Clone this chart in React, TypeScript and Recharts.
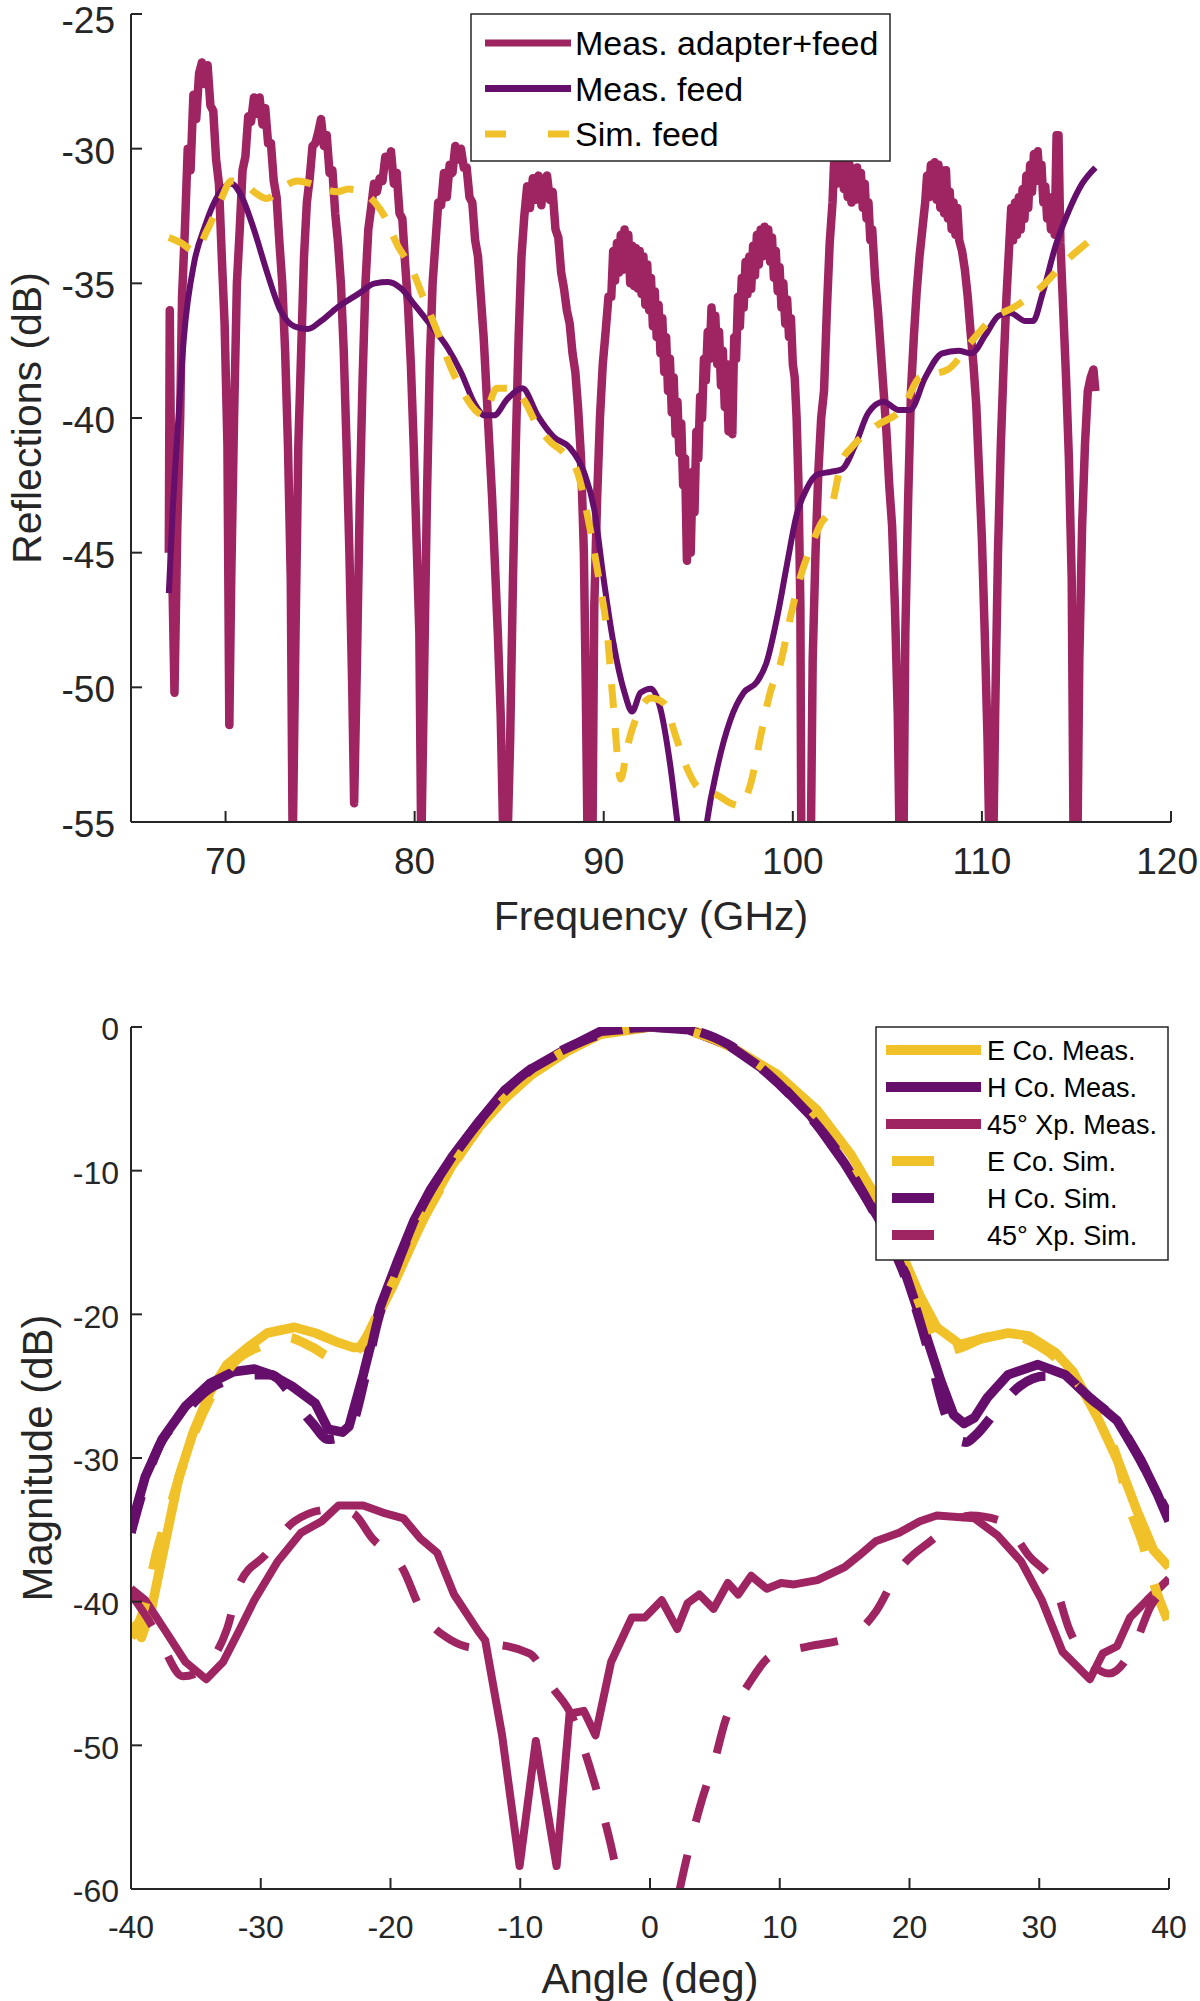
import React from 'react';
import { LineChart, Line, XAxis, YAxis } from 'recharts';

const FONT = '"Liberation Sans", Arial, Helvetica, sans-serif';
const MAROON = '#9E2462';
const PURPLE = '#660E6B';
const YELLOW = '#F1C12A';
const AXIS = '#262626';

// ---- top chart: reflections vs frequency ----
const freqTicks = [70, 80, 90, 100, 110, 120];
const reflTicks = [-55, -50, -45, -40, -35, -30, -25];

// [GHz, dB]
const adapterFeed: [number, number][] = [
  [67.0, -45.0], [67.05, -36.0], [67.15, -44.5], [67.3, -50.2], [67.45, -44.0], [67.6, -40.0], [67.7, -35.5], [67.85, -33.0],
  [68.0, -30.0], [68.15, -30.8], [68.3, -28.0], [68.45, -28.9], [68.6, -27.2], [68.75, -26.8], [68.9, -27.6], [69.05, -26.9],
  [69.2, -28.4], [69.35, -28.6], [69.5, -30.4], [69.65, -31.3], [69.8, -34.0], [69.95, -36.5], [70.1, -41.0], [70.2, -51.4],
  [70.3, -46.0], [70.45, -40.0], [70.6, -35.0], [70.75, -33.0], [70.9, -30.8], [71.05, -30.3], [71.2, -28.8], [71.35, -29.0],
  [71.5, -28.1], [71.65, -28.7], [71.8, -28.1], [71.95, -29.1], [72.1, -28.5], [72.25, -29.8], [72.4, -29.8], [72.55, -31.2],
  [72.7, -31.8], [72.85, -33.5], [73.0, -35.0], [73.15, -37.5], [73.3, -41.0], [73.45, -46.0], [73.55, -56.0], [73.7, -48.0],
  [73.85, -41.0], [74.0, -37.5], [74.15, -34.0], [74.3, -32.0], [74.45, -31.1], [74.6, -29.9], [74.75, -29.8], [74.9, -29.4],
  [75.05, -28.9], [75.2, -29.9], [75.35, -29.5], [75.5, -30.9], [75.65, -30.8], [75.8, -32.4], [75.95, -33.5], [76.1, -35.0],
  [76.25, -37.5], [76.4, -41.0], [76.55, -45.0], [76.7, -50.0], [76.8, -54.3], [76.95, -49.0], [77.1, -43.0], [77.25, -38.5],
  [77.4, -35.0], [77.55, -33.0], [77.7, -32.2], [77.85, -31.3], [78.0, -31.6], [78.15, -31.1], [78.3, -31.2], [78.45, -30.3],
  [78.6, -30.6], [78.75, -30.1], [78.9, -31.3], [79.05, -30.9], [79.2, -32.4], [79.35, -32.6], [79.5, -34.3], [79.65, -35.8],
  [79.8, -38.0], [79.95, -41.0], [80.1, -44.5], [80.25, -48.0], [80.35, -56.0], [80.5, -49.5], [80.65, -43.0], [80.8, -38.0],
  [80.95, -35.0], [81.1, -33.5], [81.25, -32.0], [81.4, -32.1], [81.55, -30.9], [81.7, -31.8], [81.85, -30.6], [82.0, -30.9],
  [82.15, -29.9], [82.3, -30.4], [82.45, -30.0], [82.6, -30.7], [82.75, -30.7], [82.9, -31.8], [83.05, -32.0], [83.2, -33.4],
  [83.35, -34.0], [83.5, -35.5], [83.65, -37.0], [83.8, -39.0], [83.95, -41.0], [84.1, -43.0], [84.25, -45.5], [84.4, -48.0],
  [84.55, -51.0], [84.7, -56.0], [84.9, -56.0], [85.05, -52.0], [85.2, -46.0], [85.35, -41.0], [85.5, -37.0], [85.65, -34.0],
  [85.8, -32.5], [85.95, -31.4], [86.1, -32.2], [86.25, -31.1], [86.4, -31.9], [86.55, -31.0], [86.7, -32.1], [86.85, -31.2],
  [87.0, -31.0], [87.15, -31.9], [87.3, -31.6], [87.45, -33.0], [87.6, -33.3], [87.75, -34.6], [87.9, -35.2], [88.05, -36.0],
  [88.2, -36.5], [88.35, -37.6], [88.5, -38.3], [88.65, -39.7], [88.8, -41.5], [88.95, -45.0], [89.05, -50.0], [89.15, -56.0],
  [89.4, -56.0], [89.5, -47.0], [89.65, -43.0], [89.8, -40.0], [89.95, -38.0], [90.1, -36.8], [90.25, -35.5], [90.4, -35.5],
  [90.5, -33.8], [90.6, -34.9], [90.7, -33.5], [90.8, -34.6], [90.9, -33.2], [91.0, -34.5], [91.1, -33.0], [91.2, -34.3],
  [91.3, -33.2], [91.4, -35.0], [91.5, -33.6], [91.6, -35.1], [91.7, -33.7], [91.8, -35.2], [91.9, -33.8], [92.0, -35.4],
  [92.1, -34.0], [92.2, -35.8], [92.3, -34.3], [92.4, -36.0], [92.5, -34.8], [92.6, -36.6], [92.7, -35.3], [92.8, -37.0],
  [92.9, -35.8], [93.0, -37.6], [93.1, -36.3], [93.2, -38.3], [93.3, -37.0], [93.4, -39.0], [93.5, -37.8], [93.6, -39.8],
  [93.7, -38.5], [93.8, -40.6], [93.9, -39.4], [94.0, -41.3], [94.1, -40.2], [94.2, -42.5], [94.3, -41.5], [94.4, -45.3],
  [94.5, -43.0], [94.6, -45.0], [94.7, -42.0], [94.8, -43.5], [94.9, -40.5], [95.0, -41.5], [95.1, -39.2], [95.2, -40.0],
  [95.3, -37.8], [95.4, -38.6], [95.5, -36.8], [95.6, -37.8], [95.7, -35.9], [95.8, -37.2], [95.9, -36.2], [96.0, -38.0],
  [96.1, -36.8], [96.2, -38.8], [96.3, -37.5], [96.4, -39.6], [96.5, -38.0], [96.6, -40.5], [96.7, -38.4], [96.8, -40.6],
  [96.9, -37.0], [97.0, -37.8], [97.1, -35.5], [97.2, -36.6], [97.3, -34.8], [97.4, -35.9], [97.5, -34.2], [97.6, -35.4],
  [97.7, -34.0], [97.8, -35.2], [97.9, -33.6], [98.0, -34.7], [98.1, -33.2], [98.2, -34.3], [98.3, -33.0], [98.4, -34.0],
  [98.5, -32.9], [98.6, -33.8], [98.7, -33.0], [98.8, -34.2], [98.9, -33.3], [99.0, -34.8], [99.1, -33.8], [99.2, -35.3],
  [99.3, -34.4], [99.4, -35.9], [99.5, -35.0], [99.6, -36.5], [99.7, -35.6], [99.8, -37.0], [99.9, -36.3], [100.0, -38.0],
  [100.1, -38.5], [100.2, -40.0], [100.3, -42.5], [100.4, -47.0], [100.45, -56.0], [100.95, -56.0], [101.05, -49.0], [101.2, -45.0],
  [101.35, -42.0], [101.5, -40.0], [101.65, -39.0], [101.8, -36.0], [101.95, -33.5], [102.1, -32.0], [102.2, -30.2], [102.3, -31.3],
  [102.4, -29.9], [102.5, -31.0], [102.6, -30.0], [102.7, -31.5], [102.8, -30.3], [102.9, -31.8], [103.0, -30.6], [103.1, -32.0],
  [103.2, -30.8], [103.3, -31.9], [103.4, -30.7], [103.5, -31.8], [103.6, -30.9], [103.7, -32.2], [103.8, -31.3], [103.9, -32.6],
  [104.0, -32.0], [104.1, -33.4], [104.2, -33.0], [104.35, -34.8], [104.5, -36.0], [104.65, -37.5], [104.8, -39.0], [104.95, -40.5],
  [105.1, -42.5], [105.25, -44.0], [105.4, -47.0], [105.55, -51.0], [105.65, -56.0], [105.85, -56.0], [105.95, -48.0], [106.1, -43.0],
  [106.25, -39.0], [106.4, -37.0], [106.55, -35.3], [106.7, -34.0], [106.85, -33.0], [107.0, -32.0], [107.1, -31.0], [107.2, -31.8],
  [107.3, -30.6], [107.4, -31.6], [107.5, -30.5], [107.6, -31.9], [107.7, -30.6], [107.8, -32.2], [107.9, -30.8], [108.0, -32.4],
  [108.1, -30.8], [108.2, -32.6], [108.3, -31.6], [108.4, -33.0], [108.5, -32.0], [108.6, -33.2], [108.7, -32.2], [108.8, -33.4],
  [108.95, -33.8], [109.1, -34.5], [109.25, -35.5], [109.4, -36.8], [109.55, -38.0], [109.7, -39.5], [109.85, -42.0], [110.0, -44.5],
  [110.15, -48.0], [110.3, -52.0], [110.4, -56.0], [110.6, -56.0], [110.7, -51.0], [110.85, -45.0], [111.0, -41.0], [111.15, -38.0],
  [111.3, -35.5], [111.45, -33.5], [111.55, -32.2], [111.65, -33.4], [111.75, -32.0], [111.85, -33.2], [111.95, -31.8], [112.05, -33.0],
  [112.15, -31.5], [112.25, -32.6], [112.35, -31.0], [112.45, -32.2], [112.55, -30.6], [112.65, -31.6], [112.75, -30.2], [112.85, -31.2],
  [112.95, -30.1], [113.05, -31.2], [113.15, -30.6], [113.25, -32.0], [113.35, -31.4], [113.45, -32.6], [113.55, -31.8], [113.65, -33.0],
  [113.75, -32.2], [113.85, -33.2], [113.95, -29.5], [114.05, -29.5], [114.15, -33.5], [114.3, -36.0], [114.45, -38.5], [114.6, -41.5],
  [114.75, -46.0], [114.85, -56.0], [115.05, -56.0], [115.15, -49.0], [115.3, -44.0], [115.45, -41.0], [115.6, -39.0], [115.75, -38.5],
  [115.9, -38.2], [116.0, -39.0],
];

const measFeed: [number, number][] = [
  [67.0, -46.5], [67.2, -43.5], [67.5, -40.1], [67.8, -37.0], [68.35, -34.2], [68.9, -32.9], [69.4, -32.0], [69.85, -31.5],
  [70.3, -31.3], [70.8, -31.7], [71.5, -33.0], [72.2, -34.6], [72.9, -36.0], [73.65, -36.6], [74.35, -36.7], [75.05, -36.4],
  [75.9, -35.9], [77.0, -35.4], [77.9, -35.0], [78.6, -34.95], [79.3, -35.2], [80.0, -35.8], [80.9, -36.6], [81.75, -37.4],
  [82.45, -38.3], [83.2, -39.5], [83.7, -39.9], [84.2, -39.9], [84.9, -39.3], [85.7, -38.9], [86.5, -39.9], [87.35, -40.7],
  [88.2, -41.1], [88.95, -42.0], [89.5, -43.4], [90.0, -46.0], [90.5, -48.3], [91.1, -50.2], [91.5, -50.9], [91.95, -50.2],
  [92.5, -50.05], [93.0, -50.8], [93.5, -52.8], [93.95, -55.3], [94.5, -58.0], [95.0, -58.0], [95.4, -55.3], [96.0, -53.0],
  [96.7, -51.2], [97.4, -50.2], [98.1, -49.8], [98.6, -49.1], [99.2, -47.3], [99.7, -45.4], [100.2, -43.6], [100.75, -42.6],
  [101.3, -42.1], [102.0, -42.0], [102.6, -41.9], [103.3, -41.0], [104.0, -39.8], [104.8, -39.4], [105.6, -39.7], [106.2, -39.7],
  [107.0, -38.5], [107.9, -37.6], [108.75, -37.5], [109.45, -37.6], [110.2, -36.9], [110.9, -36.2], [111.5, -36.1], [112.3, -36.4],
  [112.7, -36.4], [113.2, -35.4], [113.9, -33.6], [114.6, -32.3], [115.3, -31.3], [116.0, -30.7],
];

const simFeed: [number, number][] = [
  [67.0, -33.3], [67.65, -33.5], [68.35, -33.8], [69.05, -33.0], [69.75, -31.9], [70.3, -31.2], [71.0, -31.3], [71.5, -31.6],
  [72.2, -31.85], [72.9, -31.5], [73.8, -31.2], [74.5, -31.3], [75.2, -31.5], [75.9, -31.6], [76.5, -31.5], [77.2, -31.6],
  [77.9, -32.0], [78.4, -32.5], [79.1, -33.6], [79.8, -34.4], [80.5, -35.6], [81.2, -36.8], [81.9, -38.1], [82.45, -38.9],
  [83.35, -39.8], [83.65, -39.9], [84.35, -38.9], [85.05, -38.9], [85.75, -39.3], [86.5, -40.3], [87.2, -40.9], [87.9, -41.3],
  [88.6, -42.0], [89.3, -44.2], [89.75, -46.0], [90.2, -48.1], [90.5, -50.6], [90.9, -53.4], [91.25, -52.2], [91.8, -51.0],
  [92.5, -50.4], [93.2, -50.6], [93.8, -51.8], [94.4, -53.0], [95.1, -53.8], [96.0, -54.0], [96.7, -54.3], [97.2, -54.4],
  [97.8, -53.5], [98.3, -51.8], [98.8, -50.2], [99.35, -49.1], [99.9, -47.3], [100.4, -45.9], [100.95, -44.8], [101.5, -43.9],
  [102.0, -43.4], [102.6, -41.6], [103.1, -41.1], [104.4, -40.3], [105.85, -39.6], [106.7, -38.5], [108.2, -38.2], [109.4, -37.2],
  [110.4, -36.4], [111.9, -35.8], [113.2, -35.1], [114.4, -34.2], [115.7, -33.4], [116.0, -33.2],
];

// ---- bottom chart: pattern vs angle ----
const angleTicks = [-40, -30, -20, -10, 0, 10, 20, 30, 40];
const magTicks = [-60, -50, -40, -30, -20, -10, 0];

const eCoMeas: [number, number][] = [
  [-40, -41.5], [-39.2, -42.5], [-38.4, -40.4], [-37.3, -35.6], [-36.3, -31.3], [-35.2, -28.2], [-33.9, -25.4], [-32.6, -23.5],
  [-31.0, -22.3], [-29.5, -21.3], [-27.4, -20.9], [-25.8, -21.3], [-24.2, -21.9], [-22.9, -22.3], [-22.1, -22.3], [-21.1, -20.3],
  [-19.8, -18.0], [-18.2, -14.8], [-16.9, -12.3], [-15.3, -9.7], [-13.2, -7.0], [-11.2, -5.0], [-9.1, -3.3], [-6.4, -1.7],
  [-3.8, -0.5], [0, 0], [3.0, -0.1], [6.1, -1.3], [9.8, -3.3], [12.9, -5.8], [15.5, -8.9], [17.6, -12.1],
  [19.7, -16.4], [20.8, -18.7], [22.1, -20.9], [23.9, -22.1], [25.5, -21.7], [27.6, -21.3], [29.2, -21.5], [31.3, -22.7],
  [32.6, -24.0], [34.4, -27.0], [36.2, -30.5], [37.5, -33.6], [38.8, -36.4], [40, -37.6],
];

const hCoMeas: [number, number][] = [
  [-40, -34.8], [-38.9, -31.3], [-37.6, -28.7], [-35.8, -26.4], [-33.9, -24.8], [-32.1, -24.0], [-30.5, -23.8], [-29.2, -24.2],
  [-27.6, -25.0], [-25.8, -26.2], [-24.8, -28.0], [-23.7, -28.2], [-23.2, -27.8], [-22.1, -24.2], [-20.8, -19.5], [-19.5, -16.4],
  [-18.2, -13.5], [-16.9, -11.3], [-15.3, -9.1], [-13.2, -6.6], [-11.2, -4.4], [-9.1, -2.9], [-6.4, -1.5], [-3.8, -0.3],
  [0, 0], [3.0, -0.2], [6.1, -1.3], [9.3, -3.3], [12.4, -6.2], [15.0, -9.5], [17.6, -13.3], [19.7, -17.2],
  [21.0, -20.7], [22.4, -24.6], [23.4, -27.0], [24.2, -27.6], [25.0, -27.2], [26.0, -25.8], [27.6, -24.2], [29.9, -23.5],
  [32.0, -24.2], [33.9, -25.8], [36.0, -27.4], [37.8, -30.1], [39.1, -32.5], [40, -34.4],
];

const xpMeas: [number, number][] = [
  [-40, -39.1], [-38.9, -39.9], [-37.3, -42.1], [-35.8, -44.2], [-34.2, -45.4], [-32.9, -44.2], [-31.6, -41.9], [-30.5, -39.9],
  [-28.7, -37.2], [-26.9, -35.2], [-25.3, -34.4], [-24.0, -33.3], [-22.1, -33.3], [-20.6, -33.8], [-19.0, -34.2], [-17.7, -35.6],
  [-16.4, -36.6], [-15.1, -39.5], [-13.2, -42.1], [-12.7, -42.7], [-11.4, -49.3], [-10.05, -58.4], [-8.8, -49.7], [-7.2, -58.4],
  [-6.2, -47.8], [-5.1, -47.6], [-4.2, -49.3], [-3.0, -44.2], [-1.4, -41.1], [-0.4, -41.1], [0.9, -39.9], [2.1, -41.9],
  [2.9, -40.1], [3.8, -39.5], [4.9, -40.5], [6.0, -38.7], [6.8, -39.5], [7.8, -38.2], [9.0, -39.1], [10.1, -38.7],
  [11.1, -38.8], [12.9, -38.5], [15.0, -37.6], [16.1, -36.8], [17.4, -35.8], [19.2, -35.2], [20.8, -34.4], [22.1, -34.0],
  [25.0, -34.2], [26.8, -35.4], [28.6, -37.2], [30.2, -39.9], [31.8, -43.5], [32.8, -44.4], [33.9, -45.4], [34.9, -43.6],
  [36.0, -43.1], [37.0, -41.1], [38.3, -39.9], [40, -38.4],
];

const eCoSim: [number, number][] = [
  [-40, -42.5], [-39, -40.5], [-38, -36.5], [-37, -33.5], [-36, -30.5], [-35, -28.0], [-34, -26.0], [-33, -24.5],
  [-32, -23.3], [-30, -22.2], [-28, -21.6], [-26, -22.3], [-24.5, -23.0], [-23, -22.8], [-22, -21.8], [-21, -20.0],
  [-19.5, -17.2], [-18, -14.3], [-16.5, -11.8], [-15, -9.4], [-13, -6.8], [-11, -4.8], [-9, -3.1], [-6, -1.4],
  [-3, -0.4], [0, 0], [3, -0.3], [6, -1.3], [9, -3.0], [12, -5.4], [15, -8.6], [17, -11.6],
  [19, -15.4], [20.5, -18.6], [21.5, -21.0], [22.5, -22.6], [24, -22.3], [26, -21.6], [28, -21.5], [30, -22.2],
  [31.5, -23.2], [33, -24.8], [34.5, -27.2], [36, -30.0], [37, -33.5], [38, -36.0], [39, -39.2], [40, -41.5],
];

const hCoSim: [number, number][] = [
  [-40, -35.2], [-39, -32.0], [-38, -29.5], [-36, -27.0], [-34, -25.2], [-32.6, -24.6], [-31, -24.2], [-29.2, -24.2],
  [-28, -25.2], [-27.1, -26.4], [-26, -27.6], [-24.8, -28.7], [-23.7, -28.5], [-22.9, -27.6], [-22, -24.5], [-21, -20.5],
  [-19.5, -16.6], [-18, -13.3], [-16.5, -10.8], [-15, -8.8], [-13, -6.4], [-11, -4.3], [-9, -2.8], [-6, -1.3],
  [-3, -0.3], [0, 0], [3, -0.2], [6, -1.2], [9, -3.2], [12, -5.9], [15, -9.4], [17.5, -13.3],
  [19.5, -17.0], [20.5, -19.6], [21.6, -23.0], [22.8, -27.0], [23.6, -28.7], [24.4, -28.9], [25.0, -28.5], [26.8, -26.6],
  [28.5, -25.0], [30.5, -24.3], [32.3, -24.6], [34, -25.9], [36, -27.5], [38, -30.5], [39, -32.3], [40, -34.0],
];

const xpSim: [number, number][] = [
  [-40, -39.5], [-38.5, -41.5], [-37.6, -43.0], [-36, -45.2], [-35, -45.0], [-33.9, -44.2], [-32.6, -41.9], [-31.6, -38.7],
  [-29.7, -36.8], [-27.4, -34.4], [-24.8, -33.6], [-23, -33.8], [-21.4, -35.6], [-19.0, -37.8], [-17.7, -40.5], [-15.3, -42.7],
  [-13.5, -43.2], [-12.2, -43.0], [-9.3, -43.6], [-7.5, -46.0], [-6, -48.0], [-5, -50.5], [-4, -53.5], [-3, -57.0],
  [-2.3, -60.0], [-1.5, -64.0], [0, -70.0], [1.5, -64.0], [2.3, -60.0], [3, -57.2], [4, -53.8], [5, -51.0],
  [5.8, -48.3], [7.4, -46.0], [9.3, -43.8], [12.3, -43.1], [15.3, -42.5], [17.4, -40.7], [19.2, -37.8], [21.6, -35.8],
  [24.7, -34.0], [27.1, -34.4], [29.2, -36.8], [31.3, -39.1], [32.3, -41.9], [33.9, -44.2], [35.4, -45.0], [37.5, -42.7],
  [38.6, -40.3], [40, -39.1],
];

const rows = (pts: [number, number][]) => pts.map(([x, y]) => ({ x, y }));

const topSeries = [
  { name: 'Meas. adapter+feed', pts: adapterFeed, color: MAROON, width: 8.5, dash: undefined, curve: 'linear' },
  { name: 'Meas. feed', pts: measFeed, color: PURPLE, width: 6, dash: undefined, curve: 'monotone' },
  { name: 'Sim. feed', pts: simFeed, color: YELLOW, width: 7, dash: '24 20', curve: 'monotone' },
];

const bottomSeries = [
  { name: 'E Co. Meas.', pts: eCoMeas, color: YELLOW, width: 9.5, dash: undefined, curve: 'linear' },
  { name: 'H Co. Meas.', pts: hCoMeas, color: PURPLE, width: 9.5, dash: undefined, curve: 'linear' },
  { name: '45\u00B0 Xp. Meas.', pts: xpMeas, color: MAROON, width: 8, dash: undefined, curve: 'linear' },
  { name: 'E Co. Sim.', pts: eCoSim, color: YELLOW, width: 9.5, dash: '38 34', curve: 'monotone' },
  { name: 'H Co. Sim.', pts: hCoSim, color: PURPLE, width: 9.5, dash: '38 34', curve: 'monotone' },
  { name: '45\u00B0 Xp. Sim.', pts: xpSim, color: MAROON, width: 8, dash: '38 34', curve: 'monotone' },
];

const axisLine = { stroke: AXIS, strokeWidth: 2 };

// tick labels, kept inside the page like MATLAB does
const xTick = (fontSize: number) => (p: any) => {
  const half = (String(p.payload.value).length * 0.556 * fontSize) / 2;
  return (
    <text x={Math.min(p.x, 1198 - half)} y={p.y} dy="0.71em" textAnchor="middle" fontSize={fontSize} fill={AXIS} fontFamily={FONT}>
      {p.payload.value}
    </text>
  );
};
const yTick = (fontSize: number, minY: number) => (p: any) => (
  <text x={p.x} y={Math.max(p.y + 2, minY)} dy="0.355em" textAnchor="end" fontSize={fontSize} fill={AXIS} fontFamily={FONT}>
    {p.payload.value}
  </text>
);

const Frame = ({ domainX, domainY, ticksX, ticksY, fontSize, ymargin, xh, minY }: any) => [
  <XAxis key="xb" xAxisId={0} dataKey="x" type="number" domain={domainX} ticks={ticksX} allowDataOverflow interval={0}
    height={xh} tickSize={-11} tickMargin={37} axisLine={axisLine} tickLine={axisLine} tick={xTick(fontSize)} />,
  <XAxis key="xt" xAxisId="top" orientation="top" dataKey="x" type="number" domain={domainX} ticks={ticksX} allowDataOverflow interval={0}
    height={0} tickSize={-11} axisLine={axisLine} tickLine={axisLine} tick={false} />,
  <YAxis key="yl" yAxisId={0} type="number" domain={domainY} ticks={ticksY} allowDataOverflow interval={0}
    width={131} tickSize={-11} tickMargin={ymargin} axisLine={axisLine} tickLine={axisLine} tick={yTick(fontSize, minY)} />,
  <YAxis key="yr" yAxisId="right" orientation="right" type="number" domain={domainY} ticks={ticksY} allowDataOverflow interval={0}
    width={0} tickSize={-11} axisLine={axisLine} tickLine={axisLine} tick={false} />,
];

const seriesLines = (list: any[]) =>
  list.map((s) => (
    <Line key={s.name} data={rows(s.pts)} dataKey="y" name={s.name} type={s.curve} stroke={s.color}
      strokeWidth={s.width} strokeDasharray={s.dash} strokeLinejoin="round" dot={false} activeDot={false}
      isAnimationActive={false} />
  ));

export default function App() {
  return (
    <div style={{ position: 'absolute', left: 0, top: 0, width: 1200, height: 2001, background: '#fff', fontFamily: FONT }}>
      <div style={{ position: 'absolute', left: 0, top: 0 }}>
        <LineChart width={1200} height={940} margin={{ top: 14, right: 29, bottom: 0, left: 0 }}>
          {Frame({ domainX: [65, 120], domainY: [-55, -25], ticksX: freqTicks, ticksY: reflTicks, fontSize: 37, ymargin: 27, xh: 118, minY: 20 })}
          {seriesLines(topSeries)}
        </LineChart>
      </div>
      <div style={{ position: 'absolute', left: 0, top: 1000 }}>
        <LineChart width={1200} height={1001} margin={{ top: 27, right: 31, bottom: 0, left: 0 }}>
          {Frame({ domainX: [-40, 40], domainY: [-60, 0], ticksX: angleTicks, ticksY: magTicks, fontSize: 32, ymargin: 23, xh: 112, minY: 0 })}
          {seriesLines(bottomSeries)}
        </LineChart>
      </div>
      <svg width={1200} height={2001} style={{ position: 'absolute', left: 0, top: 0, pointerEvents: 'none' }}>
        <text x={651} y={930} textAnchor="middle" fontSize={41} fill={AXIS} fontFamily={FONT}>Frequency (GHz)</text>
        <text transform="translate(41,418) rotate(-90)" textAnchor="middle" fontSize={41} fill={AXIS} fontFamily={FONT}>Reflections (dB)</text>
        <text x={650} y={1993} textAnchor="middle" fontSize={42} fill={AXIS} fontFamily={FONT}>Angle (deg)</text>
        <text transform="translate(52,1458) rotate(-90)" textAnchor="middle" fontSize={42} fill={AXIS} fontFamily={FONT}>Magnitude (dB)</text>

        {/* top legend */}
        <rect x={471} y={14} width={419} height={147} fill="#fff" stroke={AXIS} strokeWidth={1.5} />
        {topSeries.map((s, i) => {
          const cy = 43 + i * 45.5;
          return (
            <g key={s.name}>
              <line x1={485} x2={571} y1={cy} y2={cy} stroke={s.color} strokeWidth={7} strokeDasharray={s.dash ? '21 42' : undefined} />
              <text x={575} y={cy + 12} fontSize={34} fill="#000" fontFamily={FONT}>{s.name}</text>
            </g>
          );
        })}

        {/* bottom legend */}
        <rect x={876} y={1027} width={292} height={233} fill="#fff" stroke={AXIS} strokeWidth={1.5} />
        {bottomSeries.map((s, i) => {
          const cy = 1050 + i * 37;
          return (
            <g key={s.name}>
              <line x1={s.dash ? 892 : 886} x2={s.dash ? 934 : 981} y1={cy} y2={cy} stroke={s.color} strokeWidth={10} />
              <text x={987} y={cy + 9.5} fontSize={27} fill="#000" fontFamily={FONT}>{s.name}</text>
            </g>
          );
        })}
      </svg>
    </div>
  );
}
